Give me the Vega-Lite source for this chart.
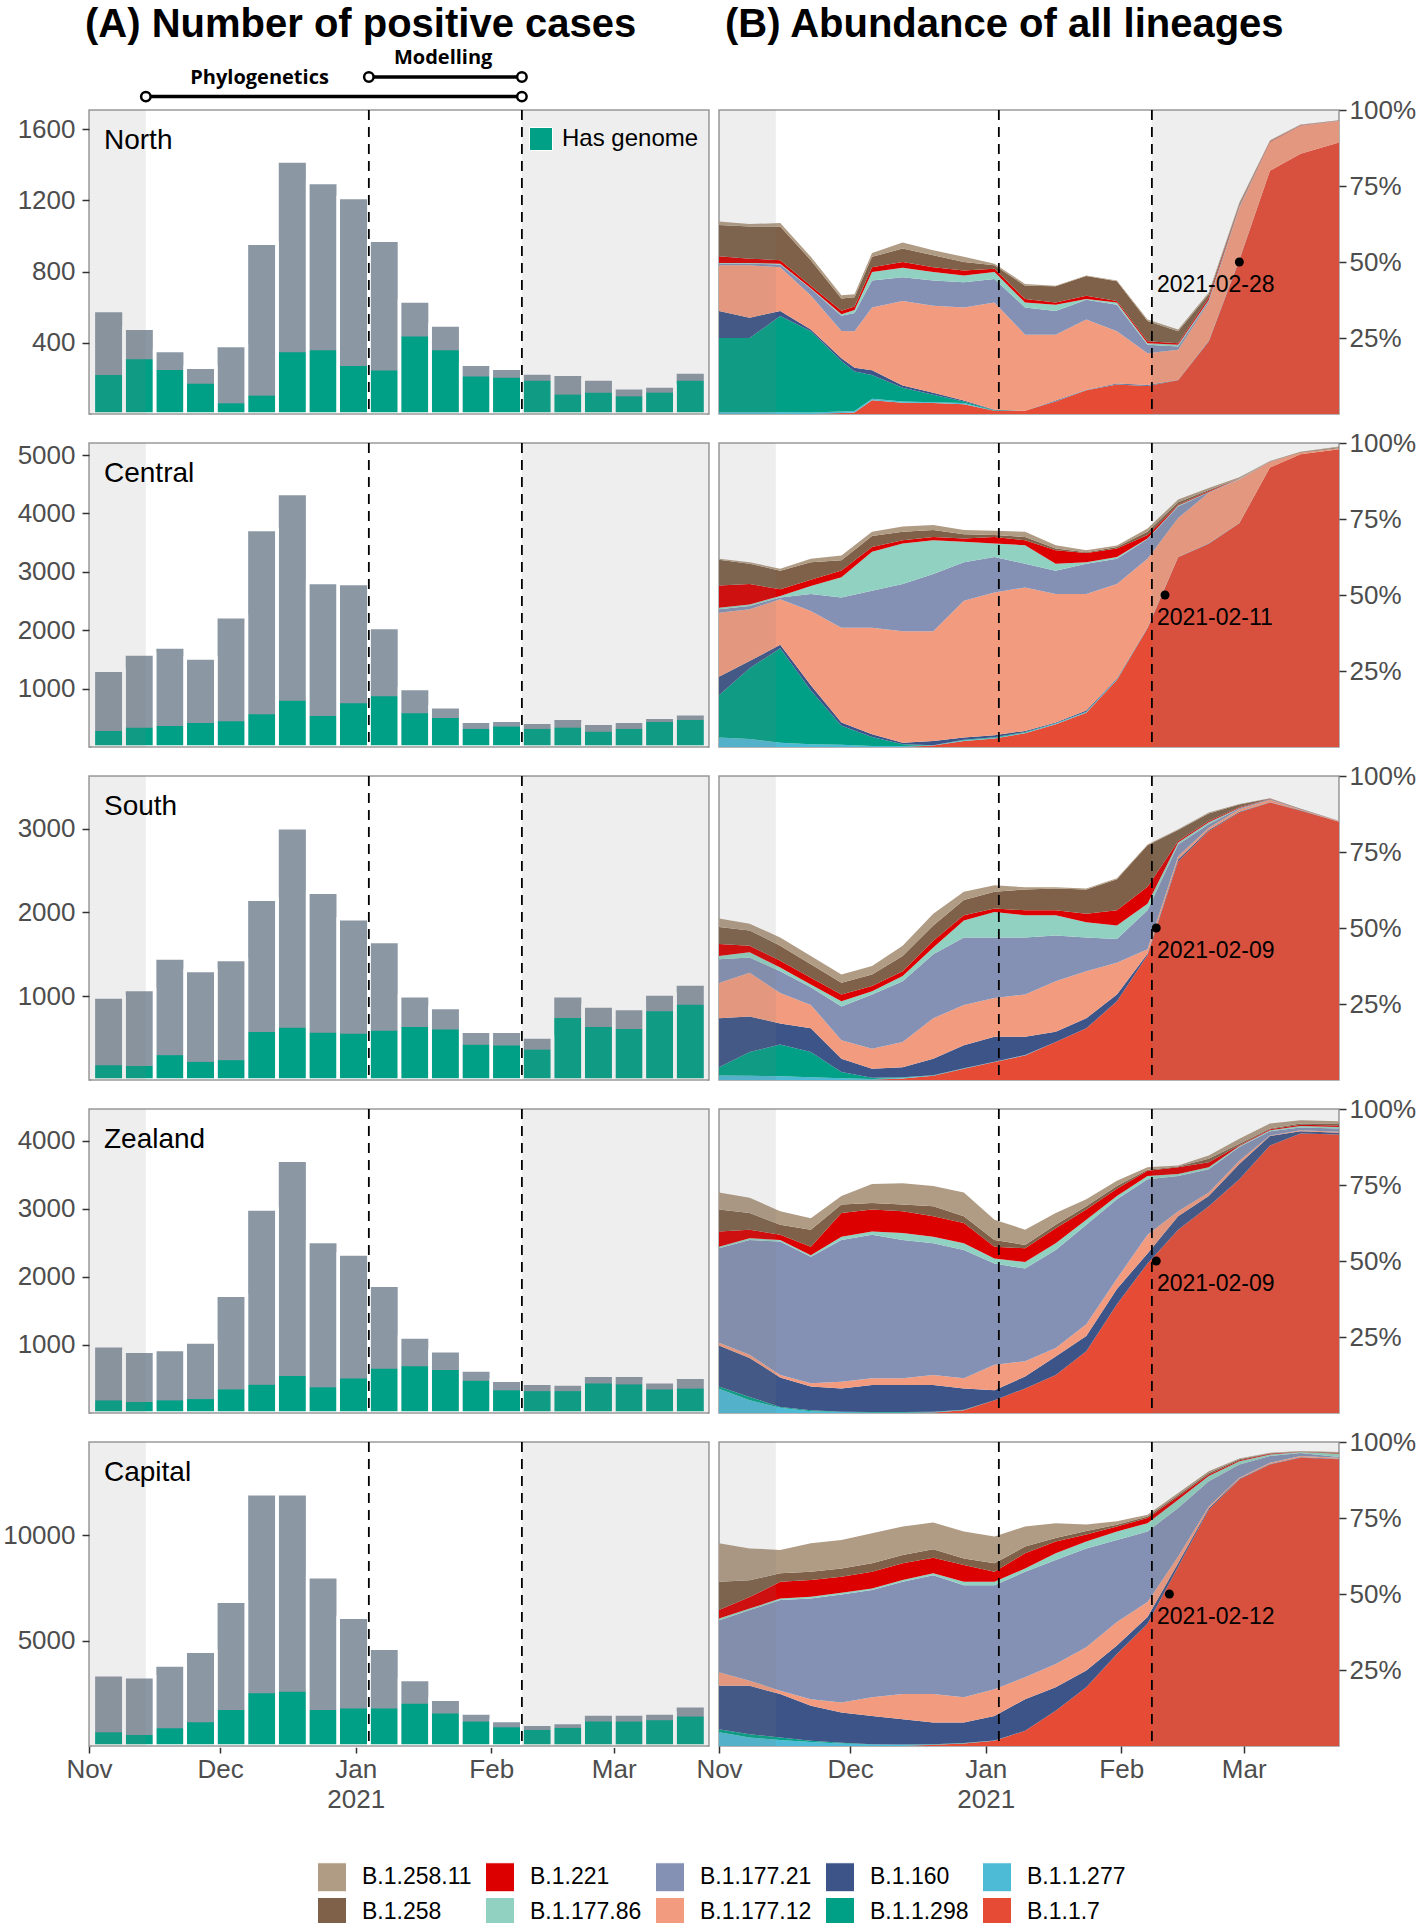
{
"$schema": "https://vega.github.io/schema/vega-lite/v6.json",
"padding": {"left": 1, "top": 5, "right": 2, "bottom": 0},
"background": "white",
"config": {
 "font": "Liberation Sans",
 "view": {"stroke": "#9a9a9a", "strokeWidth": 1.5},
 "axis": {"domain": false, "grid": false, "labelFontSize": 26, "labelColor": "#4d4d4d", "tickColor": "#333333", "tickSize": 7, "tickWidth": 1.5, "labelPadding": 3, "labelFlush": false, "labelOverlap": false, "labelBound": false},
 "title": {"fontSize": 40, "fontWeight": "bold", "anchor": "start", "offset": -5, "color": "black", "font": "Liberation Sans", "frame": "group"},
 "legend": {"labelFont": "Liberation Sans"}
},
"datasets": {
 "lin": [
  {"k":"k117","lineage":"B.1.1.7","rank":0},
  {"k":"k277","lineage":"B.1.1.277","rank":1},
  {"k":"k298","lineage":"B.1.1.298","rank":2},
  {"k":"k160","lineage":"B.1.160","rank":3},
  {"k":"k17712","lineage":"B.1.177.12","rank":4},
  {"k":"k17721","lineage":"B.1.177.21","rank":5},
  {"k":"k17786","lineage":"B.1.177.86","rank":6},
  {"k":"k221","lineage":"B.1.221","rank":7},
  {"k":"k258","lineage":"B.1.258","rank":8},
  {"k":"k25811","lineage":"B.1.258.11","rank":9}
 ],
 "shade": [{"s":"2020-11-01","e":"2020-11-14"},{"s":"2021-02-08","e":"2021-03-24"}],
 "cuts": [{"d":"2021-01-04"},{"d":"2021-02-08"}],
 "periods": [
  {"p":"Phylogenetics","s":"2020-11-14","e":"2021-02-08","m":"2020-12-10","lv":1},
  {"p":"Modelling","s":"2021-01-04","e":"2021-02-08","m":"2021-01-21","lv":2}
 ],
 "cross": [
  {"r":"North","d":"2021-02-28","lab":"2021-02-28"},
  {"r":"Central","d":"2021-02-11","lab":"2021-02-11"},
  {"r":"South","d":"2021-02-09","lab":"2021-02-09"},
  {"r":"Zealand","d":"2021-02-09","lab":"2021-02-09"},
  {"r":"Capital","d":"2021-02-12","lab":"2021-02-12"}
 ],
 "bars": [
  {"r":"North","w":"2020-11-02","e":"2020-11-09","n":581,"g":219},
  {"r":"North","w":"2020-11-09","e":"2020-11-16","n":481,"g":307},
  {"r":"North","w":"2020-11-16","e":"2020-11-23","n":356,"g":247},
  {"r":"North","w":"2020-11-23","e":"2020-11-30","n":262,"g":170},
  {"r":"North","w":"2020-11-30","e":"2020-12-07","n":384,"g":60},
  {"r":"North","w":"2020-12-07","e":"2020-12-14","n":959,"g":103},
  {"r":"North","w":"2020-12-14","e":"2020-12-21","n":1420,"g":347},
  {"r":"North","w":"2020-12-21","e":"2020-12-28","n":1300,"g":358},
  {"r":"North","w":"2020-12-28","e":"2021-01-04","n":1216,"g":270},
  {"r":"North","w":"2021-01-04","e":"2021-01-11","n":976,"g":244},
  {"r":"North","w":"2021-01-11","e":"2021-01-18","n":635,"g":435},
  {"r":"North","w":"2021-01-18","e":"2021-01-25","n":500,"g":358},
  {"r":"North","w":"2021-01-25","e":"2021-02-01","n":279,"g":210},
  {"r":"North","w":"2021-02-01","e":"2021-02-08","n":257,"g":204},
  {"r":"North","w":"2021-02-08","e":"2021-02-15","n":230,"g":187},
  {"r":"North","w":"2021-02-15","e":"2021-02-22","n":223,"g":109},
  {"r":"North","w":"2021-02-22","e":"2021-03-01","n":197,"g":120},
  {"r":"North","w":"2021-03-01","e":"2021-03-08","n":148,"g":99},
  {"r":"North","w":"2021-03-08","e":"2021-03-15","n":157,"g":120},
  {"r":"North","w":"2021-03-15","e":"2021-03-22","n":236,"g":187},
  {"r":"Central","w":"2020-11-02","e":"2020-11-09","n":1314,"g":274},
  {"r":"Central","w":"2020-11-09","e":"2020-11-16","n":1594,"g":331},
  {"r":"Central","w":"2020-11-16","e":"2020-11-23","n":1714,"g":360},
  {"r":"Central","w":"2020-11-23","e":"2020-11-30","n":1526,"g":411},
  {"r":"Central","w":"2020-11-30","e":"2020-12-07","n":2229,"g":440},
  {"r":"Central","w":"2020-12-07","e":"2020-12-14","n":3726,"g":560},
  {"r":"Central","w":"2020-12-14","e":"2020-12-21","n":4343,"g":794},
  {"r":"Central","w":"2020-12-21","e":"2020-12-28","n":2817,"g":531},
  {"r":"Central","w":"2020-12-28","e":"2021-01-04","n":2800,"g":749},
  {"r":"Central","w":"2021-01-04","e":"2021-01-11","n":2046,"g":869},
  {"r":"Central","w":"2021-01-11","e":"2021-01-18","n":1000,"g":577},
  {"r":"Central","w":"2021-01-18","e":"2021-01-25","n":691,"g":497},
  {"r":"Central","w":"2021-01-25","e":"2021-02-01","n":440,"g":309},
  {"r":"Central","w":"2021-02-01","e":"2021-02-08","n":457,"g":349},
  {"r":"Central","w":"2021-02-08","e":"2021-02-15","n":423,"g":309},
  {"r":"Central","w":"2021-02-15","e":"2021-02-22","n":491,"g":331},
  {"r":"Central","w":"2021-02-22","e":"2021-03-01","n":406,"g":263},
  {"r":"Central","w":"2021-03-01","e":"2021-03-08","n":440,"g":309},
  {"r":"Central","w":"2021-03-08","e":"2021-03-15","n":509,"g":429},
  {"r":"Central","w":"2021-03-15","e":"2021-03-22","n":571,"g":463},
  {"r":"South","w":"2020-11-02","e":"2020-11-09","n":990,"g":176},
  {"r":"South","w":"2020-11-09","e":"2020-11-16","n":1080,"g":166},
  {"r":"South","w":"2020-11-16","e":"2020-11-23","n":1457,"g":296},
  {"r":"South","w":"2020-11-23","e":"2020-11-30","n":1307,"g":216},
  {"r":"South","w":"2020-11-30","e":"2020-12-07","n":1437,"g":236},
  {"r":"South","w":"2020-12-07","e":"2020-12-14","n":2156,"g":573},
  {"r":"South","w":"2020-12-14","e":"2020-12-21","n":3010,"g":623},
  {"r":"South","w":"2020-12-21","e":"2020-12-28","n":2241,"g":563},
  {"r":"South","w":"2020-12-28","e":"2021-01-04","n":1925,"g":553},
  {"r":"South","w":"2021-01-04","e":"2021-01-11","n":1653,"g":588},
  {"r":"South","w":"2021-01-11","e":"2021-01-18","n":1005,"g":633},
  {"r":"South","w":"2021-01-18","e":"2021-01-25","n":864,"g":603},
  {"r":"South","w":"2021-01-25","e":"2021-02-01","n":583,"g":422},
  {"r":"South","w":"2021-02-01","e":"2021-02-08","n":583,"g":412},
  {"r":"South","w":"2021-02-08","e":"2021-02-15","n":513,"g":362},
  {"r":"South","w":"2021-02-15","e":"2021-02-22","n":1005,"g":739},
  {"r":"South","w":"2021-02-22","e":"2021-03-01","n":884,"g":633},
  {"r":"South","w":"2021-03-01","e":"2021-03-08","n":854,"g":608},
  {"r":"South","w":"2021-03-08","e":"2021-03-15","n":1025,"g":819},
  {"r":"South","w":"2021-03-15","e":"2021-03-22","n":1146,"g":899},
  {"r":"Zealand","w":"2020-11-02","e":"2020-11-09","n":988,"g":185},
  {"r":"Zealand","w":"2020-11-09","e":"2020-11-16","n":907,"g":160},
  {"r":"Zealand","w":"2020-11-16","e":"2020-11-23","n":932,"g":185},
  {"r":"Zealand","w":"2020-11-23","e":"2020-11-30","n":1043,"g":204},
  {"r":"Zealand","w":"2020-11-30","e":"2020-12-07","n":1728,"g":346},
  {"r":"Zealand","w":"2020-12-07","e":"2020-12-14","n":2994,"g":414},
  {"r":"Zealand","w":"2020-12-14","e":"2020-12-21","n":3710,"g":543},
  {"r":"Zealand","w":"2020-12-21","e":"2020-12-28","n":2519,"g":377},
  {"r":"Zealand","w":"2020-12-28","e":"2021-01-04","n":2333,"g":506},
  {"r":"Zealand","w":"2021-01-04","e":"2021-01-11","n":1877,"g":648},
  {"r":"Zealand","w":"2021-01-11","e":"2021-01-18","n":1117,"g":685},
  {"r":"Zealand","w":"2021-01-18","e":"2021-01-25","n":914,"g":630},
  {"r":"Zealand","w":"2021-01-25","e":"2021-02-01","n":630,"g":475},
  {"r":"Zealand","w":"2021-02-01","e":"2021-02-08","n":481,"g":333},
  {"r":"Zealand","w":"2021-02-08","e":"2021-02-15","n":438,"g":321},
  {"r":"Zealand","w":"2021-02-15","e":"2021-02-22","n":426,"g":321},
  {"r":"Zealand","w":"2021-02-22","e":"2021-03-01","n":556,"g":432},
  {"r":"Zealand","w":"2021-03-01","e":"2021-03-08","n":556,"g":420},
  {"r":"Zealand","w":"2021-03-08","e":"2021-03-15","n":457,"g":346},
  {"r":"Zealand","w":"2021-03-15","e":"2021-03-22","n":525,"g":358},
  {"r":"Capital","w":"2020-11-02","e":"2020-11-09","n":3381,"g":651},
  {"r":"Capital","w":"2020-11-09","e":"2020-11-16","n":3286,"g":524},
  {"r":"Capital","w":"2020-11-16","e":"2020-11-23","n":3841,"g":841},
  {"r":"Capital","w":"2020-11-23","e":"2020-11-30","n":4492,"g":1127},
  {"r":"Capital","w":"2020-11-30","e":"2020-12-07","n":6873,"g":1714},
  {"r":"Capital","w":"2020-12-07","e":"2020-12-14","n":11968,"g":2508},
  {"r":"Capital","w":"2020-12-14","e":"2020-12-21","n":11968,"g":2571},
  {"r":"Capital","w":"2020-12-21","e":"2020-12-28","n":8032,"g":1714},
  {"r":"Capital","w":"2020-12-28","e":"2021-01-04","n":6111,"g":1778},
  {"r":"Capital","w":"2021-01-04","e":"2021-01-11","n":4635,"g":1778},
  {"r":"Capital","w":"2021-01-11","e":"2021-01-18","n":3159,"g":2000},
  {"r":"Capital","w":"2021-01-18","e":"2021-01-25","n":2222,"g":1540},
  {"r":"Capital","w":"2021-01-25","e":"2021-02-01","n":1571,"g":1159},
  {"r":"Capital","w":"2021-02-01","e":"2021-02-08","n":1206,"g":889},
  {"r":"Capital","w":"2021-02-08","e":"2021-02-15","n":1032,"g":762},
  {"r":"Capital","w":"2021-02-15","e":"2021-02-22","n":1111,"g":857},
  {"r":"Capital","w":"2021-02-22","e":"2021-03-01","n":1524,"g":1159},
  {"r":"Capital","w":"2021-03-01","e":"2021-03-08","n":1524,"g":1159},
  {"r":"Capital","w":"2021-03-08","e":"2021-03-15","n":1571,"g":1222},
  {"r":"Capital","w":"2021-03-15","e":"2021-03-22","n":1905,"g":1397}
 ],
 "ab": [
  {"r":"North","d":"2020-11-01","k117":0,"k277":0.006,"k298":0.244,"k160":0.089,"k17712":0.15,"k17721":0.006,"k17786":0.002,"k221":0.022,"k258":0.103,"k25811":0.011},
  {"r":"North","d":"2020-11-08","k117":0,"k277":0.006,"k298":0.244,"k160":0.067,"k17712":0.172,"k17721":0.006,"k17786":0.002,"k221":0.014,"k258":0.106,"k25811":0.008},
  {"r":"North","d":"2020-11-15","k117":0,"k277":0.006,"k298":0.316,"k160":0.017,"k17712":0.144,"k17721":0.009,"k17786":0.002,"k221":0.012,"k258":0.111,"k25811":0.011},
  {"r":"North","d":"2020-11-22","k117":0,"k277":0.005,"k298":0.267,"k160":0.006,"k17712":0.112,"k17721":0.022,"k17786":0.002,"k221":0.008,"k258":0.084,"k25811":0.011},
  {"r":"North","d":"2020-11-29","k117":0.003,"k277":0.005,"k298":0.166,"k160":0.009,"k17712":0.09,"k17721":0.05,"k17786":0.005,"k221":0.012,"k258":0.04,"k25811":0.011},
  {"r":"North","d":"2020-12-02","k117":0.005,"k277":0.005,"k298":0.13,"k160":0.012,"k17712":0.12,"k17721":0.06,"k17786":0.01,"k221":0.012,"k258":0.03,"k25811":0.01},
  {"r":"North","d":"2020-12-06","k117":0.045,"k277":0.005,"k298":0.078,"k160":0.016,"k17712":0.206,"k17721":0.089,"k17786":0.028,"k221":0.016,"k258":0.034,"k25811":0.013},
  {"r":"North","d":"2020-12-13","k117":0.037,"k277":0.004,"k298":0.045,"k160":0.008,"k17712":0.278,"k17721":0.078,"k17786":0.031,"k221":0.019,"k258":0.044,"k25811":0.02},
  {"r":"North","d":"2020-12-20","k117":0.036,"k277":0.003,"k298":0.024,"k160":0.007,"k17712":0.286,"k17721":0.083,"k17786":0.028,"k221":0.016,"k258":0.039,"k25811":0.017},
  {"r":"North","d":"2020-12-27","k117":0.032,"k277":0.004,"k298":0.005,"k160":0.003,"k17712":0.306,"k17721":0.083,"k17786":0.023,"k221":0.016,"k258":0.028,"k25811":0.017},
  {"r":"North","d":"2021-01-03","k117":0.011,"k277":0,"k298":0.001,"k160":0.002,"k17712":0.353,"k17721":0.077,"k17786":0.023,"k221":0.011,"k258":0.011,"k25811":0.005},
  {"r":"North","d":"2021-01-10","k117":0.011,"k277":0,"k298":0,"k160":0,"k17712":0.25,"k17721":0.089,"k17786":0.017,"k221":0.011,"k258":0.044,"k25811":0.006},
  {"r":"North","d":"2021-01-17","k117":0.041,"k277":0.001,"k298":0,"k160":0.002,"k17712":0.217,"k17721":0.078,"k17786":0.02,"k221":0.008,"k258":0.053,"k25811":0.002},
  {"r":"North","d":"2021-01-24","k117":0.078,"k277":0.001,"k298":0,"k160":0.001,"k17712":0.231,"k17721":0.065,"k17786":0.002,"k221":0.011,"k258":0.065,"k25811":0.002},
  {"r":"North","d":"2021-01-31","k117":0.097,"k277":0.001,"k298":0,"k160":0.002,"k17712":0.172,"k17721":0.087,"k17786":0.008,"k221":0.005,"k258":0.065,"k25811":0.002},
  {"r":"North","d":"2021-02-07","k117":0.092,"k277":0.001,"k298":0,"k160":0.002,"k17712":0.105,"k17721":0.028,"k17786":0.005,"k221":0.006,"k258":0.067,"k25811":0.005},
  {"r":"North","d":"2021-02-14","k117":0.111,"k277":0,"k298":0,"k160":0.001,"k17712":0.099,"k17721":0.011,"k17786":0.006,"k221":0.005,"k258":0.039,"k25811":0.006},
  {"r":"North","d":"2021-02-21","k117":0.238,"k277":0,"k298":0,"k160":0.002,"k17712":0.127,"k17721":0.005,"k17786":0.003,"k221":0.008,"k258":0.011,"k25811":0.006},
  {"r":"North","d":"2021-02-28","k117":0.506,"k277":0,"k298":0,"k160":0.002,"k17712":0.17,"k17721":0.003,"k17786":0.002,"k221":0.003,"k258":0.005,"k25811":0.005},
  {"r":"North","d":"2021-03-07","k117":0.8,"k277":0,"k298":0,"k160":0,"k17712":0.094,"k17721":0.001,"k17786":0,"k221":0.001,"k258":0.002,"k25811":0.002},
  {"r":"North","d":"2021-03-14","k117":0.856,"k277":0,"k298":0,"k160":0,"k17712":0.092,"k17721":0.001,"k17786":0,"k221":0.001,"k258":0.001,"k25811":0.001},
  {"r":"North","d":"2021-03-23","k117":0.894,"k277":0,"k298":0,"k160":0,"k17712":0.071,"k17721":0.001,"k17786":0,"k221":0,"k258":0.001,"k25811":0},
  {"r":"Central","d":"2020-11-01","k117":0,"k277":0.031,"k298":0.139,"k160":0.061,"k17712":0.211,"k17721":0.011,"k17786":0.005,"k221":0.073,"k258":0.085,"k25811":0.003},
  {"r":"Central","d":"2020-11-08","k117":0,"k277":0.026,"k298":0.233,"k160":0.024,"k17712":0.17,"k17721":0.011,"k17786":0.005,"k221":0.067,"k258":0.067,"k25811":0.005},
  {"r":"Central","d":"2020-11-15","k117":0,"k277":0.014,"k298":0.311,"k160":0.011,"k17712":0.15,"k17721":0.006,"k17786":0.005,"k221":0.022,"k258":0.061,"k25811":0.006},
  {"r":"Central","d":"2020-11-22","k117":0,"k277":0.009,"k298":0.177,"k160":0.017,"k17712":0.244,"k17721":0.056,"k17786":0.027,"k221":0.02,"k258":0.058,"k25811":0.011},
  {"r":"Central","d":"2020-11-29","k117":0,"k277":0.007,"k298":0.063,"k160":0.011,"k17712":0.311,"k17721":0.1,"k17786":0.066,"k221":0.023,"k258":0.033,"k25811":0.016},
  {"r":"Central","d":"2020-12-06","k117":0,"k277":0.003,"k298":0.03,"k160":0.009,"k17712":0.35,"k17721":0.122,"k17786":0.128,"k221":0.016,"k258":0.036,"k25811":0.014},
  {"r":"Central","d":"2020-12-13","k117":0,"k277":0.003,"k298":0.006,"k160":0.005,"k17712":0.367,"k17721":0.155,"k17786":0.133,"k221":0.011,"k258":0.028,"k25811":0.017},
  {"r":"Central","d":"2020-12-20","k117":0.005,"k277":0.001,"k298":0,"k160":0.014,"k17712":0.361,"k17721":0.188,"k17786":0.111,"k221":0.011,"k258":0.023,"k25811":0.016},
  {"r":"Central","d":"2020-12-27","k117":0.02,"k277":0.002,"k298":0.002,"k160":0.007,"k17712":0.45,"k17721":0.127,"k17786":0.067,"k221":0.011,"k258":0.014,"k25811":0.014},
  {"r":"Central","d":"2021-01-03","k117":0.028,"k277":0.002,"k298":0.002,"k160":0.007,"k17712":0.469,"k17721":0.117,"k17786":0.044,"k221":0.022,"k258":0.006,"k25811":0.014},
  {"r":"Central","d":"2021-01-10","k117":0.045,"k277":0.002,"k298":0.002,"k160":0.004,"k17712":0.472,"k17721":0.078,"k17786":0.061,"k221":0.016,"k258":0.011,"k25811":0.017},
  {"r":"Central","d":"2021-01-17","k117":0.075,"k277":0.002,"k298":0.001,"k160":0.003,"k17712":0.422,"k17721":0.077,"k17786":0.023,"k221":0.044,"k258":0.006,"k25811":0.011},
  {"r":"Central","d":"2021-01-24","k117":0.113,"k277":0.002,"k298":0.001,"k160":0.004,"k17712":0.383,"k17721":0.1,"k17786":0.005,"k221":0.03,"k258":0.003,"k25811":0.006},
  {"r":"Central","d":"2021-01-31","k117":0.22,"k277":0.002,"k298":0.001,"k160":0.002,"k17712":0.311,"k17721":0.083,"k17786":0.006,"k221":0.028,"k258":0.005,"k25811":0.005},
  {"r":"Central","d":"2021-02-07","k117":0.39,"k277":0,"k298":0,"k160":0.002,"k17712":0.227,"k17721":0.065,"k17786":0.002,"k221":0.011,"k258":0.011,"k25811":0.011},
  {"r":"Central","d":"2021-02-14","k117":0.624,"k277":0,"k298":0,"k160":0.001,"k17712":0.128,"k17721":0.038,"k17786":0.003,"k221":0.003,"k258":0.008,"k25811":0.009},
  {"r":"Central","d":"2021-02-21","k117":0.668,"k277":0,"k298":0,"k160":0.001,"k17712":0.167,"k17721":0.002,"k17786":0.001,"k221":0.003,"k258":0.003,"k25811":0.007},
  {"r":"Central","d":"2021-02-28","k117":0.736,"k277":0,"k298":0,"k160":0.001,"k17712":0.143,"k17721":0.001,"k17786":0.001,"k221":0.001,"k258":0.001,"k25811":0.003},
  {"r":"Central","d":"2021-03-07","k117":0.919,"k277":0,"k298":0,"k160":0,"k17712":0.019,"k17721":0.001,"k17786":0,"k221":0,"k258":0.001,"k25811":0.001},
  {"r":"Central","d":"2021-03-14","k117":0.963,"k277":0,"k298":0,"k160":0,"k17712":0.006,"k17721":0,"k17786":0,"k221":0,"k258":0.001,"k25811":0.001},
  {"r":"Central","d":"2021-03-23","k117":0.98,"k277":0,"k298":0,"k160":0,"k17712":0.003,"k17721":0.001,"k17786":0,"k221":0,"k258":0.002,"k25811":0.003},
  {"r":"South","d":"2020-11-01","k117":0,"k277":0.015,"k298":0.027,"k160":0.161,"k17712":0.116,"k17721":0.078,"k17786":0.011,"k221":0.039,"k258":0.056,"k25811":0.028},
  {"r":"South","d":"2020-11-08","k117":0,"k277":0.014,"k298":0.078,"k160":0.117,"k17712":0.144,"k17721":0.05,"k17786":0.017,"k221":0.022,"k258":0.05,"k25811":0.022},
  {"r":"South","d":"2020-11-15","k117":0,"k277":0.012,"k298":0.105,"k160":0.069,"k17712":0.1,"k17721":0.072,"k17786":0.012,"k221":0.022,"k258":0.05,"k25811":0.027},
  {"r":"South","d":"2020-11-22","k117":0,"k277":0.009,"k298":0.083,"k160":0.078,"k17712":0.077,"k17721":0.058,"k17786":0.009,"k221":0.022,"k258":0.045,"k25811":0.027},
  {"r":"South","d":"2020-11-29","k117":0,"k277":0.006,"k298":0.02,"k160":0.044,"k17712":0.061,"k17721":0.111,"k17786":0.017,"k221":0.022,"k258":0.039,"k25811":0.027},
  {"r":"South","d":"2020-12-06","k117":0.001,"k277":0.002,"k298":0.004,"k160":0.03,"k17712":0.066,"k17721":0.178,"k17786":0.011,"k221":0.017,"k258":0.038,"k25811":0.028},
  {"r":"South","d":"2020-12-13","k117":0.005,"k277":0.002,"k298":0.002,"k160":0.033,"k17712":0.083,"k17721":0.2,"k17786":0.017,"k221":0.016,"k258":0.05,"k25811":0.034},
  {"r":"South","d":"2020-12-20","k117":0.014,"k277":0.001,"k298":0.001,"k160":0.054,"k17712":0.133,"k17721":0.211,"k17786":0.022,"k221":0.022,"k258":0.05,"k25811":0.039},
  {"r":"South","d":"2020-12-27","k117":0.037,"k277":0.001,"k298":0.001,"k160":0.075,"k17712":0.133,"k17721":0.222,"k17786":0.056,"k221":0.017,"k258":0.05,"k25811":0.027},
  {"r":"South","d":"2021-01-03","k117":0.059,"k277":0.001,"k298":0,"k160":0.082,"k17712":0.128,"k17721":0.199,"k17786":0.084,"k221":0.011,"k258":0.055,"k25811":0.022},
  {"r":"South","d":"2021-01-10","k117":0.081,"k277":0.001,"k298":0,"k160":0.06,"k17712":0.139,"k17721":0.188,"k17786":0.073,"k221":0.016,"k258":0.069,"k25811":0.007},
  {"r":"South","d":"2021-01-17","k117":0.125,"k277":0,"k298":0,"k160":0.034,"k17712":0.166,"k17721":0.15,"k17786":0.067,"k221":0.016,"k258":0.072,"k25811":0.004},
  {"r":"South","d":"2021-01-24","k117":0.17,"k277":0,"k298":0,"k160":0.033,"k17712":0.155,"k17721":0.111,"k17786":0.05,"k221":0.028,"k258":0.08,"k25811":0.003},
  {"r":"South","d":"2021-01-31","k117":0.259,"k277":0,"k298":0,"k160":0.022,"k17712":0.105,"k17721":0.078,"k17786":0.044,"k221":0.05,"k258":0.102,"k25811":0.004},
  {"r":"South","d":"2021-02-07","k117":0.41,"k277":0,"k298":0,"k160":0.005,"k17712":0.015,"k17721":0.128,"k17786":0.022,"k221":0.056,"k258":0.136,"k25811":0.003},
  {"r":"South","d":"2021-02-14","k117":0.719,"k277":0,"k298":0,"k160":0.006,"k17712":0.011,"k17721":0.039,"k17786":0.006,"k221":0.005,"k258":0.036,"k25811":0.003},
  {"r":"South","d":"2021-02-21","k117":0.819,"k277":0,"k298":0,"k160":0.003,"k17712":0.008,"k17721":0.011,"k17786":0.007,"k221":0.004,"k258":0.025,"k25811":0.003},
  {"r":"South","d":"2021-02-28","k117":0.88,"k277":0,"k298":0,"k160":0.002,"k17712":0.009,"k17721":0.003,"k17786":0.001,"k221":0.002,"k258":0.009,"k25811":0.002},
  {"r":"South","d":"2021-03-07","k117":0.913,"k277":0,"k298":0,"k160":0.001,"k17712":0.008,"k17721":0.002,"k17786":0,"k221":0.001,"k258":0.001,"k25811":0.001},
  {"r":"South","d":"2021-03-14","k117":0.886,"k277":0,"k298":0,"k160":0.001,"k17712":0.003,"k17721":0.001,"k17786":0,"k221":0,"k258":0.001,"k25811":0},
  {"r":"South","d":"2021-03-23","k117":0.849,"k277":0,"k298":0,"k160":0,"k17712":0.002,"k17721":0.001,"k17786":0,"k221":0,"k258":0,"k25811":0},
  {"r":"Zealand","d":"2020-11-01","k117":0,"k277":0.08,"k298":0.007,"k160":0.135,"k17712":0.009,"k17721":0.311,"k17786":0.005,"k221":0.05,"k258":0.072,"k25811":0.056},
  {"r":"Zealand","d":"2020-11-08","k117":0,"k277":0.042,"k298":0.011,"k160":0.128,"k17712":0.011,"k17721":0.377,"k17786":0.006,"k221":0.028,"k258":0.055,"k25811":0.05},
  {"r":"Zealand","d":"2020-11-15","k117":0,"k277":0.017,"k298":0.003,"k160":0.097,"k17712":0.008,"k17721":0.439,"k17786":0.005,"k221":0.017,"k258":0.033,"k25811":0.045},
  {"r":"Zealand","d":"2020-11-22","k117":0,"k277":0.006,"k298":0.003,"k160":0.078,"k17712":0.011,"k17721":0.416,"k17786":0.005,"k221":0.028,"k258":0.056,"k25811":0.038},
  {"r":"Zealand","d":"2020-11-29","k117":0,"k277":0.003,"k298":0.001,"k160":0.077,"k17712":0.022,"k17721":0.466,"k17786":0.011,"k221":0.078,"k258":0.028,"k25811":0.028},
  {"r":"Zealand","d":"2020-12-06","k117":0,"k277":0.002,"k298":0.001,"k160":0.089,"k17712":0.022,"k17721":0.472,"k17786":0.011,"k221":0.072,"k258":0.022,"k25811":0.062},
  {"r":"Zealand","d":"2020-12-13","k117":0,"k277":0.002,"k298":0.001,"k160":0.089,"k17712":0.022,"k17721":0.455,"k17786":0.023,"k221":0.072,"k258":0.022,"k25811":0.07},
  {"r":"Zealand","d":"2020-12-20","k117":0.002,"k277":0.001,"k298":0.001,"k160":0.088,"k17712":0.033,"k17721":0.433,"k17786":0.022,"k221":0.067,"k258":0.033,"k25811":0.067},
  {"r":"Zealand","d":"2020-12-27","k117":0.009,"k277":0.001,"k298":0.001,"k160":0.07,"k17712":0.033,"k17721":0.422,"k17786":0.022,"k221":0.067,"k258":0.022,"k25811":0.078},
  {"r":"Zealand","d":"2021-01-03","k117":0.042,"k277":0,"k298":0,"k160":0.033,"k17712":0.084,"k17721":0.333,"k17786":0.016,"k221":0.039,"k258":0.022,"k25811":0.067},
  {"r":"Zealand","d":"2021-01-10","k117":0.081,"k277":0,"k298":0,"k160":0.039,"k17712":0.05,"k17721":0.305,"k17786":0.022,"k221":0.045,"k258":0.011,"k25811":0.05},
  {"r":"Zealand","d":"2021-01-17","k117":0.125,"k277":0,"k298":0,"k160":0.061,"k17712":0.028,"k17721":0.322,"k17786":0.022,"k221":0.05,"k258":0.011,"k25811":0.039},
  {"r":"Zealand","d":"2021-01-24","k117":0.203,"k277":0,"k298":0,"k160":0.05,"k17712":0.039,"k17721":0.327,"k17786":0.017,"k221":0.033,"k258":0.011,"k25811":0.023},
  {"r":"Zealand","d":"2021-01-31","k117":0.358,"k277":0,"k298":0,"k160":0.05,"k17712":0.034,"k17721":0.261,"k17786":0.011,"k221":0.024,"k258":0.009,"k25811":0.017},
  {"r":"Zealand","d":"2021-02-07","k117":0.492,"k277":0,"k298":0,"k160":0.033,"k17712":0.061,"k17721":0.183,"k17786":0.011,"k221":0.017,"k258":0.003,"k25811":0.008},
  {"r":"Zealand","d":"2021-02-14","k117":0.603,"k277":0,"k298":0,"k160":0.044,"k17712":0.017,"k17721":0.116,"k17786":0.006,"k221":0.022,"k258":0.003,"k25811":0.003},
  {"r":"Zealand","d":"2021-02-21","k117":0.68,"k277":0,"k298":0,"k160":0.034,"k17712":0.011,"k17721":0.077,"k17786":0.006,"k221":0.017,"k258":0.011,"k25811":0.011},
  {"r":"Zealand","d":"2021-02-28","k117":0.769,"k277":0,"k298":0,"k160":0.05,"k17712":0.011,"k17721":0.045,"k17786":0.003,"k221":0.003,"k258":0.005,"k25811":0.016},
  {"r":"Zealand","d":"2021-03-07","k117":0.88,"k277":0,"k298":0,"k160":0.031,"k17712":0.002,"k17721":0.014,"k17786":0.003,"k221":0.003,"k258":0.003,"k25811":0.016},
  {"r":"Zealand","d":"2021-03-14","k117":0.919,"k277":0,"k298":0,"k160":0.008,"k17712":0.003,"k17721":0.009,"k17786":0.005,"k221":0.004,"k258":0.004,"k25811":0.011},
  {"r":"Zealand","d":"2021-03-23","k117":0.916,"k277":0,"k298":0,"k160":0.006,"k17712":0.003,"k17721":0.011,"k17786":0.005,"k221":0.005,"k258":0.006,"k25811":0.008},
  {"r":"Capital","d":"2020-11-01","k117":0,"k277":0.045,"k298":0.01,"k160":0.143,"k17712":0.045,"k17721":0.17,"k17786":0.006,"k221":0.028,"k258":0.093,"k25811":0.127},
  {"r":"Capital","d":"2020-11-08","k117":0,"k277":0.028,"k298":0.011,"k160":0.159,"k17712":0.017,"k17721":0.232,"k17786":0.005,"k221":0.038,"k258":0.055,"k25811":0.105},
  {"r":"Capital","d":"2020-11-15","k117":0,"k277":0.02,"k298":0.008,"k160":0.143,"k17712":0.011,"k17721":0.298,"k17786":0.005,"k221":0.055,"k258":0.028,"k25811":0.077},
  {"r":"Capital","d":"2020-11-22","k117":0,"k277":0.013,"k298":0.004,"k160":0.115,"k17712":0.022,"k17721":0.331,"k17786":0.006,"k221":0.055,"k258":0.027,"k25811":0.094},
  {"r":"Capital","d":"2020-11-29","k117":0,"k277":0.008,"k298":0.003,"k160":0.099,"k17712":0.033,"k17721":0.355,"k17786":0.006,"k221":0.053,"k258":0.027,"k25811":0.094},
  {"r":"Capital","d":"2020-12-06","k117":0,"k277":0.005,"k298":0.001,"k160":0.093,"k17712":0.061,"k17721":0.353,"k17786":0.005,"k221":0.055,"k258":0.028,"k25811":0.099},
  {"r":"Capital","d":"2020-12-13","k117":0,"k277":0.004,"k298":0.001,"k160":0.083,"k17712":0.083,"k17721":0.369,"k17786":0.006,"k221":0.055,"k258":0.027,"k25811":0.094},
  {"r":"Capital","d":"2020-12-20","k117":0.004,"k277":0.001,"k298":0.001,"k160":0.071,"k17712":0.094,"k17721":0.391,"k17786":0.006,"k221":0.051,"k258":0.028,"k25811":0.088},
  {"r":"Capital","d":"2020-12-27","k117":0.008,"k277":0.001,"k298":0.001,"k160":0.067,"k17712":0.083,"k17721":0.369,"k17786":0.011,"k221":0.055,"k258":0.022,"k25811":0.089},
  {"r":"Capital","d":"2021-01-03","k117":0.017,"k277":0.001,"k298":0,"k160":0.081,"k17712":0.088,"k17721":0.342,"k17786":0.011,"k221":0.033,"k258":0.028,"k25811":0.088},
  {"r":"Capital","d":"2021-01-10","k117":0.05,"k277":0,"k298":0,"k160":0.104,"k17712":0.072,"k17721":0.347,"k17786":0.011,"k221":0.05,"k258":0.022,"k25811":0.066},
  {"r":"Capital","d":"2021-01-17","k117":0.116,"k277":0,"k298":0,"k160":0.077,"k17712":0.077,"k17721":0.342,"k17786":0.022,"k221":0.039,"k258":0.011,"k25811":0.049},
  {"r":"Capital","d":"2021-01-24","k117":0.193,"k277":0,"k298":0,"k160":0.055,"k17712":0.077,"k17721":0.325,"k17786":0.023,"k221":0.023,"k258":0.011,"k25811":0.022},
  {"r":"Capital","d":"2021-01-31","k117":0.303,"k277":0,"k298":0,"k160":0.028,"k17712":0.077,"k17721":0.27,"k17786":0.028,"k221":0.016,"k258":0.006,"k25811":0.011},
  {"r":"Capital","d":"2021-02-07","k117":0.402,"k277":0,"k298":0,"k160":0.022,"k17712":0.05,"k17721":0.232,"k17786":0.027,"k221":0.017,"k258":0.005,"k25811":0.006},
  {"r":"Capital","d":"2021-02-14","k117":0.59,"k277":0,"k298":0,"k160":0.011,"k17712":0.022,"k17721":0.16,"k17786":0.027,"k221":0.011,"k258":0.005,"k25811":0.006},
  {"r":"Capital","d":"2021-02-21","k117":0.777,"k277":0,"k298":0,"k160":0.005,"k17712":0.006,"k17721":0.083,"k17786":0.017,"k221":0.005,"k258":0.005,"k25811":0.006},
  {"r":"Capital","d":"2021-02-28","k117":0.877,"k277":0,"k298":0,"k160":0.002,"k17712":0.003,"k17721":0.044,"k17786":0.011,"k221":0.003,"k258":0.003,"k25811":0.003},
  {"r":"Capital","d":"2021-03-07","k117":0.926,"k277":0,"k298":0,"k160":0.002,"k17712":0.004,"k17721":0.022,"k17786":0.005,"k221":0.002,"k258":0.002,"k25811":0.002},
  {"r":"Capital","d":"2021-03-14","k117":0.948,"k277":0,"k298":0,"k160":0.002,"k17712":0.004,"k17721":0.01,"k17786":0.003,"k221":0.001,"k258":0.001,"k25811":0.001},
  {"r":"Capital","d":"2021-03-23","k117":0.943,"k277":0,"k298":0,"k160":0.002,"k17712":0.003,"k17721":0.002,"k17786":0.011,"k221":0.002,"k258":0.002,"k25811":0.002}
 ]
},
"columns": 2,
"spacing": {"row": 29, "column": 10},
"bounds": "flush",
"align": "each",
"concat": [
 {
  "width": 620, "height": 41,
  "view": {"stroke": null},
  "title": {"text": "(A) Number of positive cases", "dx": -4},
  "data": {"name": "periods"},
  "layer": [
   {"mark": {"type": "rule", "color": "black", "strokeWidth": 3.5},
    "encoding": {
     "x": {"field": "s", "type": "temporal", "scale": {"type": "utc", "domain": [{"year":2020,"month":11,"date":1,"utc":true},{"year":2021,"month":3,"date":22,"hours":19,"utc":true}]}, "axis": null},
     "x2": {"field": "e"},
     "y": {"field": "lv", "type": "quantitative", "scale": {"domain": [1.8, 3.9], "nice": false, "zero": false}, "axis": null}}},
   {"mark": {"type": "point", "filled": true, "fill": "white", "stroke": "black", "strokeWidth": 2.5, "size": 90, "opacity": 1},
    "encoding": {"x": {"field": "s", "type": "temporal"}, "y": {"field": "lv", "type": "quantitative"}}},
   {"mark": {"type": "point", "filled": true, "fill": "white", "stroke": "black", "strokeWidth": 2.5, "size": 90, "opacity": 1},
    "encoding": {"x": {"field": "e", "type": "temporal"}, "y": {"field": "lv", "type": "quantitative"}}},
   {"mark": {"type": "text", "font": "Open Sans", "fontWeight": "bold", "fontSize": 20, "dy": -19, "baseline": "middle", "align": "center", "color": "black"},
    "encoding": {"x": {"field": "m", "type": "temporal"}, "y": {"field": "lv", "type": "quantitative"}, "text": {"field": "p", "type": "nominal"}}}
  ]
 },
 {
  "width": 620, "height": 41,
  "view": {"stroke": null},
  "title": {"text": "(B) Abundance of all lineages", "dx": 6},
  "data": {"values": []},
  "mark": {"type": "rule"},
  "encoding": {}
 },
 {
  "width": 620, "height": 304,
  "title": {"text": "North", "fontSize": 28, "fontWeight": "normal", "offset": -46, "dx": 15},
  "layer": [
   {"data": {"name": "bars"}, "transform": [{"filter": "datum.r == 'North'"}],
    "mark": {"type": "rect", "color": "#8C97A4", "opacity": 1},
    "encoding": {
     "x": {"field": "w", "type": "temporal", "scale": {"type": "utc", "domain": [{"year":2020,"month":11,"date":1,"utc":true},{"year":2021,"month":3,"date":22,"hours":19,"utc":true}]}, "axis": null},
     "x2": {"field": "e"},
     "y": {"field": "n", "type": "quantitative", "scale": {"domain": [0, 1707], "nice": false}, "axis": {"values": [400, 800, 1200, 1600], "format": "d", "title": null, "labelPadding": 7}},
     "y2": {"datum": 0}}},
   {"data": {"name": "bars"}, "transform": [{"filter": "datum.r == 'North'"}],
    "mark": {"type": "rect", "opacity": 1},
    "encoding": {
     "x": {"field": "w", "type": "temporal"}, "x2": {"field": "e"},
     "y": {"field": "g", "type": "quantitative"}, "y2": {"datum": 0},
     "fill": {"datum": "Has genome", "type": "nominal", "scale": {"domain": ["Has genome"], "range": ["#00A087"]},
      "legend": {"orient": "none", "legendX": 440, "legendY": 87, "title": null, "symbolType": "square", "symbolSize": 529, "symbolStrokeColor": "white", "symbolStrokeWidth": 1, "symbolOpacity": 1, "labelFontSize": 24, "labelColor": "black", "labelOffset": 9}}}},
   {"data": {"name": "bars"}, "transform": [{"filter": "datum.r == 'North'"}],
    "mark": {"type": "rect", "fillOpacity": 0, "stroke": "white", "strokeWidth": 3.5},
    "encoding": {"x": {"field": "w", "type": "temporal"}, "x2": {"field": "e"}, "y": {"field": "n", "type": "quantitative"}, "y2": {"datum": 0}}},
   {"data": {"name": "shade"}, "mark": {"type": "rect", "fill": "#7f7f7f", "opacity": 0.13, "clip": true},
    "encoding": {"x": {"field": "s", "type": "temporal"}, "x2": {"field": "e"}}},
   {"data": {"name": "cuts"}, "mark": {"type": "rule", "color": "black", "strokeDash": [10, 7], "strokeWidth": 1.8},
    "encoding": {"x": {"field": "d", "type": "temporal"}}},
   {"data": {"values": [{}]}, "mark": {"type": "rule", "color": "#9a9a9a", "strokeWidth": 1.5},
    "encoding": {"y": {"datum": 0}}}
  ]
 },
 {
  "width": 620, "height": 304,
  "layer": [
   {"data": {"name": "ab"}, "transform": [{"filter": "datum.r == 'North'"}, {"fold": ["k117","k277","k298","k160","k17712","k17721","k17786","k221","k258","k25811"], "as": ["k", "frac"]}, {"lookup": "k", "from": {"data": {"name": "lin"}, "key": "k", "fields": ["lineage", "rank"]}}],
    "mark": {"type": "area", "clip": true},
    "encoding": {
     "x": {"field": "d", "type": "temporal", "scale": {"type": "utc", "domain": [{"year":2020,"month":11,"date":1,"utc":true},{"year":2021,"month":3,"date":22,"hours":19,"utc":true}]}, "axis": null},
     "y": {"field": "frac", "type": "quantitative", "stack": "zero", "scale": {"domain": [0, 1], "nice": false}, "axis": {"orient": "right", "values": [0.25, 0.5, 0.75, 1], "format": ".0%", "title": null}},
     "color": {"field": "lineage", "type": "nominal", "scale": {"domain": ["B.1.258.11","B.1.221","B.1.177.21","B.1.160","B.1.1.277","B.1.258","B.1.177.86","B.1.177.12","B.1.1.298","B.1.1.7"], "range": ["#B09C85","#DC0000","#8491B4","#3C5488","#4DBBD5","#7E6148","#91D1C2","#F39B7F","#00A087","#E64B35"]},
      "legend": {"orient": "none", "legendX": 228, "legendY": 1822, "direction": "horizontal", "columns": 5, "title": null, "symbolType": "square", "symbolSize": 841, "symbolStrokeColor": "white", "symbolStrokeWidth": 1, "symbolOpacity": 1, "labelFontSize": 23, "labelColor": "black", "labelOffset": 15, "columnPadding": 11, "rowPadding": 1}},
     "order": {"field": "rank", "type": "quantitative", "sort": "ascending"}}},
   {"data": {"name": "shade"}, "mark": {"type": "rect", "fill": "#7f7f7f", "opacity": 0.13, "clip": true},
    "encoding": {"x": {"field": "s", "type": "temporal"}, "x2": {"field": "e"}}},
   {"data": {"name": "cuts"}, "mark": {"type": "rule", "color": "black", "strokeDash": [10, 7], "strokeWidth": 1.8},
    "encoding": {"x": {"field": "d", "type": "temporal"}}},
   {"data": {"name": "cross"}, "transform": [{"filter": "datum.r == 'North'"}],
    "mark": {"type": "point", "filled": true, "color": "black", "size": 80, "opacity": 1},
    "encoding": {"x": {"field": "d", "type": "temporal"}, "y": {"datum": 0.5}}},
   {"data": {"name": "cross"}, "transform": [{"filter": "datum.r == 'North'"}],
    "mark": {"type": "text", "align": "left", "baseline": "middle", "dx": 5, "dy": 23, "fontSize": 23, "color": "black"},
    "encoding": {"x": {"datum": {"year":2021,"month":2,"date":8,"utc":true}, "type": "temporal"}, "y": {"datum": 0.5}, "text": {"field": "lab", "type": "nominal"}}}
  ]
 },
 {
  "width": 620, "height": 304,
  "title": {"text": "Central", "fontSize": 28, "fontWeight": "normal", "offset": -46, "dx": 15},
  "layer": [
   {"data": {"name": "bars"}, "transform": [{"filter": "datum.r == 'Central'"}],
    "mark": {"type": "rect", "color": "#8C97A4", "opacity": 1},
    "encoding": {
     "x": {"field": "w", "type": "temporal", "scale": {"type": "utc", "domain": [{"year":2020,"month":11,"date":1,"utc":true},{"year":2021,"month":3,"date":22,"hours":19,"utc":true}]}, "axis": null},
     "x2": {"field": "e"},
     "y": {"field": "n", "type": "quantitative", "scale": {"domain": [0, 5206], "nice": false}, "axis": {"values": [1000, 2000, 3000, 4000, 5000], "format": "d", "title": null, "labelPadding": 7}},
     "y2": {"datum": 0}}},
   {"data": {"name": "bars"}, "transform": [{"filter": "datum.r == 'Central'"}],
    "mark": {"type": "rect", "opacity": 1},
    "encoding": {
     "x": {"field": "w", "type": "temporal"}, "x2": {"field": "e"},
     "y": {"field": "g", "type": "quantitative"}, "y2": {"datum": 0},
     "fill": {"datum": "Has genome", "type": "nominal", "scale": {"domain": ["Has genome"], "range": ["#00A087"]},
      "legend": {"orient": "none", "legendX": 440, "legendY": 87, "title": null, "symbolType": "square", "symbolSize": 529, "symbolStrokeColor": "white", "symbolStrokeWidth": 1, "symbolOpacity": 1, "labelFontSize": 24, "labelColor": "black", "labelOffset": 9}}}},
   {"data": {"name": "bars"}, "transform": [{"filter": "datum.r == 'Central'"}],
    "mark": {"type": "rect", "fillOpacity": 0, "stroke": "white", "strokeWidth": 3.5},
    "encoding": {"x": {"field": "w", "type": "temporal"}, "x2": {"field": "e"}, "y": {"field": "n", "type": "quantitative"}, "y2": {"datum": 0}}},
   {"data": {"name": "shade"}, "mark": {"type": "rect", "fill": "#7f7f7f", "opacity": 0.13, "clip": true},
    "encoding": {"x": {"field": "s", "type": "temporal"}, "x2": {"field": "e"}}},
   {"data": {"name": "cuts"}, "mark": {"type": "rule", "color": "black", "strokeDash": [10, 7], "strokeWidth": 1.8},
    "encoding": {"x": {"field": "d", "type": "temporal"}}},
   {"data": {"values": [{}]}, "mark": {"type": "rule", "color": "#9a9a9a", "strokeWidth": 1.5},
    "encoding": {"y": {"datum": 0}}}
  ]
 },
 {
  "width": 620, "height": 304,
  "layer": [
   {"data": {"name": "ab"}, "transform": [{"filter": "datum.r == 'Central'"}, {"fold": ["k117","k277","k298","k160","k17712","k17721","k17786","k221","k258","k25811"], "as": ["k", "frac"]}, {"lookup": "k", "from": {"data": {"name": "lin"}, "key": "k", "fields": ["lineage", "rank"]}}],
    "mark": {"type": "area", "clip": true},
    "encoding": {
     "x": {"field": "d", "type": "temporal", "scale": {"type": "utc", "domain": [{"year":2020,"month":11,"date":1,"utc":true},{"year":2021,"month":3,"date":22,"hours":19,"utc":true}]}, "axis": null},
     "y": {"field": "frac", "type": "quantitative", "stack": "zero", "scale": {"domain": [0, 1], "nice": false}, "axis": {"orient": "right", "values": [0.25, 0.5, 0.75, 1], "format": ".0%", "title": null}},
     "color": {"field": "lineage", "type": "nominal", "scale": {"domain": ["B.1.258.11","B.1.221","B.1.177.21","B.1.160","B.1.1.277","B.1.258","B.1.177.86","B.1.177.12","B.1.1.298","B.1.1.7"], "range": ["#B09C85","#DC0000","#8491B4","#3C5488","#4DBBD5","#7E6148","#91D1C2","#F39B7F","#00A087","#E64B35"]},
      "legend": {"orient": "none", "legendX": 228, "legendY": 1822, "direction": "horizontal", "columns": 5, "title": null, "symbolType": "square", "symbolSize": 841, "symbolStrokeColor": "white", "symbolStrokeWidth": 1, "symbolOpacity": 1, "labelFontSize": 23, "labelColor": "black", "labelOffset": 15, "columnPadding": 11, "rowPadding": 1}},
     "order": {"field": "rank", "type": "quantitative", "sort": "ascending"}}},
   {"data": {"name": "shade"}, "mark": {"type": "rect", "fill": "#7f7f7f", "opacity": 0.13, "clip": true},
    "encoding": {"x": {"field": "s", "type": "temporal"}, "x2": {"field": "e"}}},
   {"data": {"name": "cuts"}, "mark": {"type": "rule", "color": "black", "strokeDash": [10, 7], "strokeWidth": 1.8},
    "encoding": {"x": {"field": "d", "type": "temporal"}}},
   {"data": {"name": "cross"}, "transform": [{"filter": "datum.r == 'Central'"}],
    "mark": {"type": "point", "filled": true, "color": "black", "size": 80, "opacity": 1},
    "encoding": {"x": {"field": "d", "type": "temporal"}, "y": {"datum": 0.5}}},
   {"data": {"name": "cross"}, "transform": [{"filter": "datum.r == 'Central'"}],
    "mark": {"type": "text", "align": "left", "baseline": "middle", "dx": 5, "dy": 23, "fontSize": 23, "color": "black"},
    "encoding": {"x": {"datum": {"year":2021,"month":2,"date":8,"utc":true}, "type": "temporal"}, "y": {"datum": 0.5}, "text": {"field": "lab", "type": "nominal"}}}
  ]
 },
 {
  "width": 620, "height": 304,
  "title": {"text": "South", "fontSize": 28, "fontWeight": "normal", "offset": -46, "dx": 15},
  "layer": [
   {"data": {"name": "bars"}, "transform": [{"filter": "datum.r == 'South'"}],
    "mark": {"type": "rect", "color": "#8C97A4", "opacity": 1},
    "encoding": {
     "x": {"field": "w", "type": "temporal", "scale": {"type": "utc", "domain": [{"year":2020,"month":11,"date":1,"utc":true},{"year":2021,"month":3,"date":22,"hours":19,"utc":true}]}, "axis": null},
     "x2": {"field": "e"},
     "y": {"field": "n", "type": "quantitative", "scale": {"domain": [0, 3628], "nice": false}, "axis": {"values": [1000, 2000, 3000], "format": "d", "title": null, "labelPadding": 7}},
     "y2": {"datum": 0}}},
   {"data": {"name": "bars"}, "transform": [{"filter": "datum.r == 'South'"}],
    "mark": {"type": "rect", "opacity": 1},
    "encoding": {
     "x": {"field": "w", "type": "temporal"}, "x2": {"field": "e"},
     "y": {"field": "g", "type": "quantitative"}, "y2": {"datum": 0},
     "fill": {"datum": "Has genome", "type": "nominal", "scale": {"domain": ["Has genome"], "range": ["#00A087"]},
      "legend": {"orient": "none", "legendX": 440, "legendY": 87, "title": null, "symbolType": "square", "symbolSize": 529, "symbolStrokeColor": "white", "symbolStrokeWidth": 1, "symbolOpacity": 1, "labelFontSize": 24, "labelColor": "black", "labelOffset": 9}}}},
   {"data": {"name": "bars"}, "transform": [{"filter": "datum.r == 'South'"}],
    "mark": {"type": "rect", "fillOpacity": 0, "stroke": "white", "strokeWidth": 3.5},
    "encoding": {"x": {"field": "w", "type": "temporal"}, "x2": {"field": "e"}, "y": {"field": "n", "type": "quantitative"}, "y2": {"datum": 0}}},
   {"data": {"name": "shade"}, "mark": {"type": "rect", "fill": "#7f7f7f", "opacity": 0.13, "clip": true},
    "encoding": {"x": {"field": "s", "type": "temporal"}, "x2": {"field": "e"}}},
   {"data": {"name": "cuts"}, "mark": {"type": "rule", "color": "black", "strokeDash": [10, 7], "strokeWidth": 1.8},
    "encoding": {"x": {"field": "d", "type": "temporal"}}},
   {"data": {"values": [{}]}, "mark": {"type": "rule", "color": "#9a9a9a", "strokeWidth": 1.5},
    "encoding": {"y": {"datum": 0}}}
  ]
 },
 {
  "width": 620, "height": 304,
  "layer": [
   {"data": {"name": "ab"}, "transform": [{"filter": "datum.r == 'South'"}, {"fold": ["k117","k277","k298","k160","k17712","k17721","k17786","k221","k258","k25811"], "as": ["k", "frac"]}, {"lookup": "k", "from": {"data": {"name": "lin"}, "key": "k", "fields": ["lineage", "rank"]}}],
    "mark": {"type": "area", "clip": true},
    "encoding": {
     "x": {"field": "d", "type": "temporal", "scale": {"type": "utc", "domain": [{"year":2020,"month":11,"date":1,"utc":true},{"year":2021,"month":3,"date":22,"hours":19,"utc":true}]}, "axis": null},
     "y": {"field": "frac", "type": "quantitative", "stack": "zero", "scale": {"domain": [0, 1], "nice": false}, "axis": {"orient": "right", "values": [0.25, 0.5, 0.75, 1], "format": ".0%", "title": null}},
     "color": {"field": "lineage", "type": "nominal", "scale": {"domain": ["B.1.258.11","B.1.221","B.1.177.21","B.1.160","B.1.1.277","B.1.258","B.1.177.86","B.1.177.12","B.1.1.298","B.1.1.7"], "range": ["#B09C85","#DC0000","#8491B4","#3C5488","#4DBBD5","#7E6148","#91D1C2","#F39B7F","#00A087","#E64B35"]},
      "legend": {"orient": "none", "legendX": 228, "legendY": 1822, "direction": "horizontal", "columns": 5, "title": null, "symbolType": "square", "symbolSize": 841, "symbolStrokeColor": "white", "symbolStrokeWidth": 1, "symbolOpacity": 1, "labelFontSize": 23, "labelColor": "black", "labelOffset": 15, "columnPadding": 11, "rowPadding": 1}},
     "order": {"field": "rank", "type": "quantitative", "sort": "ascending"}}},
   {"data": {"name": "shade"}, "mark": {"type": "rect", "fill": "#7f7f7f", "opacity": 0.13, "clip": true},
    "encoding": {"x": {"field": "s", "type": "temporal"}, "x2": {"field": "e"}}},
   {"data": {"name": "cuts"}, "mark": {"type": "rule", "color": "black", "strokeDash": [10, 7], "strokeWidth": 1.8},
    "encoding": {"x": {"field": "d", "type": "temporal"}}},
   {"data": {"name": "cross"}, "transform": [{"filter": "datum.r == 'South'"}],
    "mark": {"type": "point", "filled": true, "color": "black", "size": 80, "opacity": 1},
    "encoding": {"x": {"field": "d", "type": "temporal"}, "y": {"datum": 0.5}}},
   {"data": {"name": "cross"}, "transform": [{"filter": "datum.r == 'South'"}],
    "mark": {"type": "text", "align": "left", "baseline": "middle", "dx": 5, "dy": 23, "fontSize": 23, "color": "black"},
    "encoding": {"x": {"datum": {"year":2021,"month":2,"date":8,"utc":true}, "type": "temporal"}, "y": {"datum": 0.5}, "text": {"field": "lab", "type": "nominal"}}}
  ]
 },
 {
  "width": 620, "height": 304,
  "title": {"text": "Zealand", "fontSize": 28, "fontWeight": "normal", "offset": -46, "dx": 15},
  "layer": [
   {"data": {"name": "bars"}, "transform": [{"filter": "datum.r == 'Zealand'"}],
    "mark": {"type": "rect", "color": "#8C97A4", "opacity": 1},
    "encoding": {
     "x": {"field": "w", "type": "temporal", "scale": {"type": "utc", "domain": [{"year":2020,"month":11,"date":1,"utc":true},{"year":2021,"month":3,"date":22,"hours":19,"utc":true}]}, "axis": null},
     "x2": {"field": "e"},
     "y": {"field": "n", "type": "quantitative", "scale": {"domain": [0, 4463], "nice": false}, "axis": {"values": [1000, 2000, 3000, 4000], "format": "d", "title": null, "labelPadding": 7}},
     "y2": {"datum": 0}}},
   {"data": {"name": "bars"}, "transform": [{"filter": "datum.r == 'Zealand'"}],
    "mark": {"type": "rect", "opacity": 1},
    "encoding": {
     "x": {"field": "w", "type": "temporal"}, "x2": {"field": "e"},
     "y": {"field": "g", "type": "quantitative"}, "y2": {"datum": 0},
     "fill": {"datum": "Has genome", "type": "nominal", "scale": {"domain": ["Has genome"], "range": ["#00A087"]},
      "legend": {"orient": "none", "legendX": 440, "legendY": 87, "title": null, "symbolType": "square", "symbolSize": 529, "symbolStrokeColor": "white", "symbolStrokeWidth": 1, "symbolOpacity": 1, "labelFontSize": 24, "labelColor": "black", "labelOffset": 9}}}},
   {"data": {"name": "bars"}, "transform": [{"filter": "datum.r == 'Zealand'"}],
    "mark": {"type": "rect", "fillOpacity": 0, "stroke": "white", "strokeWidth": 3.5},
    "encoding": {"x": {"field": "w", "type": "temporal"}, "x2": {"field": "e"}, "y": {"field": "n", "type": "quantitative"}, "y2": {"datum": 0}}},
   {"data": {"name": "shade"}, "mark": {"type": "rect", "fill": "#7f7f7f", "opacity": 0.13, "clip": true},
    "encoding": {"x": {"field": "s", "type": "temporal"}, "x2": {"field": "e"}}},
   {"data": {"name": "cuts"}, "mark": {"type": "rule", "color": "black", "strokeDash": [10, 7], "strokeWidth": 1.8},
    "encoding": {"x": {"field": "d", "type": "temporal"}}},
   {"data": {"values": [{}]}, "mark": {"type": "rule", "color": "#9a9a9a", "strokeWidth": 1.5},
    "encoding": {"y": {"datum": 0}}}
  ]
 },
 {
  "width": 620, "height": 304,
  "layer": [
   {"data": {"name": "ab"}, "transform": [{"filter": "datum.r == 'Zealand'"}, {"fold": ["k117","k277","k298","k160","k17712","k17721","k17786","k221","k258","k25811"], "as": ["k", "frac"]}, {"lookup": "k", "from": {"data": {"name": "lin"}, "key": "k", "fields": ["lineage", "rank"]}}],
    "mark": {"type": "area", "clip": true},
    "encoding": {
     "x": {"field": "d", "type": "temporal", "scale": {"type": "utc", "domain": [{"year":2020,"month":11,"date":1,"utc":true},{"year":2021,"month":3,"date":22,"hours":19,"utc":true}]}, "axis": null},
     "y": {"field": "frac", "type": "quantitative", "stack": "zero", "scale": {"domain": [0, 1], "nice": false}, "axis": {"orient": "right", "values": [0.25, 0.5, 0.75, 1], "format": ".0%", "title": null}},
     "color": {"field": "lineage", "type": "nominal", "scale": {"domain": ["B.1.258.11","B.1.221","B.1.177.21","B.1.160","B.1.1.277","B.1.258","B.1.177.86","B.1.177.12","B.1.1.298","B.1.1.7"], "range": ["#B09C85","#DC0000","#8491B4","#3C5488","#4DBBD5","#7E6148","#91D1C2","#F39B7F","#00A087","#E64B35"]},
      "legend": {"orient": "none", "legendX": 228, "legendY": 1822, "direction": "horizontal", "columns": 5, "title": null, "symbolType": "square", "symbolSize": 841, "symbolStrokeColor": "white", "symbolStrokeWidth": 1, "symbolOpacity": 1, "labelFontSize": 23, "labelColor": "black", "labelOffset": 15, "columnPadding": 11, "rowPadding": 1}},
     "order": {"field": "rank", "type": "quantitative", "sort": "ascending"}}},
   {"data": {"name": "shade"}, "mark": {"type": "rect", "fill": "#7f7f7f", "opacity": 0.13, "clip": true},
    "encoding": {"x": {"field": "s", "type": "temporal"}, "x2": {"field": "e"}}},
   {"data": {"name": "cuts"}, "mark": {"type": "rule", "color": "black", "strokeDash": [10, 7], "strokeWidth": 1.8},
    "encoding": {"x": {"field": "d", "type": "temporal"}}},
   {"data": {"name": "cross"}, "transform": [{"filter": "datum.r == 'Zealand'"}],
    "mark": {"type": "point", "filled": true, "color": "black", "size": 80, "opacity": 1},
    "encoding": {"x": {"field": "d", "type": "temporal"}, "y": {"datum": 0.5}}},
   {"data": {"name": "cross"}, "transform": [{"filter": "datum.r == 'Zealand'"}],
    "mark": {"type": "text", "align": "left", "baseline": "middle", "dx": 5, "dy": 23, "fontSize": 23, "color": "black"},
    "encoding": {"x": {"datum": {"year":2021,"month":2,"date":8,"utc":true}, "type": "temporal"}, "y": {"datum": 0.5}, "text": {"field": "lab", "type": "nominal"}}}
  ]
 },
 {
  "width": 620, "height": 304,
  "title": {"text": "Capital", "fontSize": 28, "fontWeight": "normal", "offset": -46, "dx": 15},
  "layer": [
   {"data": {"name": "bars"}, "transform": [{"filter": "datum.r == 'Capital'"}],
    "mark": {"type": "rect", "color": "#8C97A4", "opacity": 1},
    "encoding": {
     "x": {"field": "w", "type": "temporal", "scale": {"type": "utc", "domain": [{"year":2020,"month":11,"date":1,"utc":true},{"year":2021,"month":3,"date":22,"hours":19,"utc":true}]},
      "axis": {"values": [{"year":2020,"month":11,"date":1,"utc":true},{"year":2020,"month":12,"date":1,"utc":true},{"year":2021,"month":1,"date":1,"utc":true},{"year":2021,"month":2,"date":1,"utc":true},{"year":2021,"month":3,"date":1,"utc":true}], "format": "%b", "labelExpr": "utcmonth(datum.value) == 0 ? [datum.label, utcFormat(datum.value, '%Y')] : datum.label", "labelLineHeight": 30, "title": null}},
     "x2": {"field": "e"},
     "y": {"field": "n", "type": "quantitative", "scale": {"domain": [0, 14430], "nice": false}, "axis": {"values": [5000, 10000], "format": "d", "title": null, "labelPadding": 7}},
     "y2": {"datum": 0}}},
   {"data": {"name": "bars"}, "transform": [{"filter": "datum.r == 'Capital'"}],
    "mark": {"type": "rect", "opacity": 1},
    "encoding": {
     "x": {"field": "w", "type": "temporal"}, "x2": {"field": "e"},
     "y": {"field": "g", "type": "quantitative"}, "y2": {"datum": 0},
     "fill": {"datum": "Has genome", "type": "nominal", "scale": {"domain": ["Has genome"], "range": ["#00A087"]},
      "legend": {"orient": "none", "legendX": 440, "legendY": 87, "title": null, "symbolType": "square", "symbolSize": 529, "symbolStrokeColor": "white", "symbolStrokeWidth": 1, "symbolOpacity": 1, "labelFontSize": 24, "labelColor": "black", "labelOffset": 9}}}},
   {"data": {"name": "bars"}, "transform": [{"filter": "datum.r == 'Capital'"}],
    "mark": {"type": "rect", "fillOpacity": 0, "stroke": "white", "strokeWidth": 3.5},
    "encoding": {"x": {"field": "w", "type": "temporal"}, "x2": {"field": "e"}, "y": {"field": "n", "type": "quantitative"}, "y2": {"datum": 0}}},
   {"data": {"name": "shade"}, "mark": {"type": "rect", "fill": "#7f7f7f", "opacity": 0.13, "clip": true},
    "encoding": {"x": {"field": "s", "type": "temporal"}, "x2": {"field": "e"}}},
   {"data": {"name": "cuts"}, "mark": {"type": "rule", "color": "black", "strokeDash": [10, 7], "strokeWidth": 1.8},
    "encoding": {"x": {"field": "d", "type": "temporal"}}},
   {"data": {"values": [{}]}, "mark": {"type": "rule", "color": "#9a9a9a", "strokeWidth": 1.5},
    "encoding": {"y": {"datum": 0}}}
  ]
 },
 {
  "width": 620, "height": 304,
  "layer": [
   {"data": {"name": "ab"}, "transform": [{"filter": "datum.r == 'Capital'"}, {"fold": ["k117","k277","k298","k160","k17712","k17721","k17786","k221","k258","k25811"], "as": ["k", "frac"]}, {"lookup": "k", "from": {"data": {"name": "lin"}, "key": "k", "fields": ["lineage", "rank"]}}],
    "mark": {"type": "area", "clip": true},
    "encoding": {
     "x": {"field": "d", "type": "temporal", "scale": {"type": "utc", "domain": [{"year":2020,"month":11,"date":1,"utc":true},{"year":2021,"month":3,"date":22,"hours":19,"utc":true}]},
      "axis": {"values": [{"year":2020,"month":11,"date":1,"utc":true},{"year":2020,"month":12,"date":1,"utc":true},{"year":2021,"month":1,"date":1,"utc":true},{"year":2021,"month":2,"date":1,"utc":true},{"year":2021,"month":3,"date":1,"utc":true}], "format": "%b", "labelExpr": "utcmonth(datum.value) == 0 ? [datum.label, utcFormat(datum.value, '%Y')] : datum.label", "labelLineHeight": 30, "title": null}},
     "y": {"field": "frac", "type": "quantitative", "stack": "zero", "scale": {"domain": [0, 1], "nice": false}, "axis": {"orient": "right", "values": [0.25, 0.5, 0.75, 1], "format": ".0%", "title": null}},
     "color": {"field": "lineage", "type": "nominal", "scale": {"domain": ["B.1.258.11","B.1.221","B.1.177.21","B.1.160","B.1.1.277","B.1.258","B.1.177.86","B.1.177.12","B.1.1.298","B.1.1.7"], "range": ["#B09C85","#DC0000","#8491B4","#3C5488","#4DBBD5","#7E6148","#91D1C2","#F39B7F","#00A087","#E64B35"]},
      "legend": {"orient": "none", "legendX": 228, "legendY": 1822, "direction": "horizontal", "columns": 5, "title": null, "symbolType": "square", "symbolSize": 841, "symbolStrokeColor": "white", "symbolStrokeWidth": 1, "symbolOpacity": 1, "labelFontSize": 23, "labelColor": "black", "labelOffset": 15, "columnPadding": 11, "rowPadding": 1}},
     "order": {"field": "rank", "type": "quantitative", "sort": "ascending"}}},
   {"data": {"name": "shade"}, "mark": {"type": "rect", "fill": "#7f7f7f", "opacity": 0.13, "clip": true},
    "encoding": {"x": {"field": "s", "type": "temporal"}, "x2": {"field": "e"}}},
   {"data": {"name": "cuts"}, "mark": {"type": "rule", "color": "black", "strokeDash": [10, 7], "strokeWidth": 1.8},
    "encoding": {"x": {"field": "d", "type": "temporal"}}},
   {"data": {"name": "cross"}, "transform": [{"filter": "datum.r == 'Capital'"}],
    "mark": {"type": "point", "filled": true, "color": "black", "size": 80, "opacity": 1},
    "encoding": {"x": {"field": "d", "type": "temporal"}, "y": {"datum": 0.5}}},
   {"data": {"name": "cross"}, "transform": [{"filter": "datum.r == 'Capital'"}],
    "mark": {"type": "text", "align": "left", "baseline": "middle", "dx": 5, "dy": 23, "fontSize": 23, "color": "black"},
    "encoding": {"x": {"datum": {"year":2021,"month":2,"date":8,"utc":true}, "type": "temporal"}, "y": {"datum": 0.5}, "text": {"field": "lab", "type": "nominal"}}}
  ]
 }
]
}
